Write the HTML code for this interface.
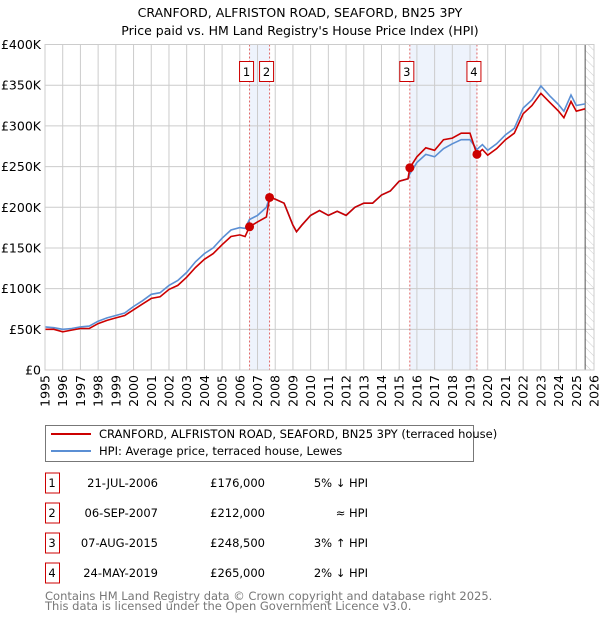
<!DOCTYPE html>
<html><head><meta charset="utf-8"><style>
body{margin:0;background:#fff;font-family:"Liberation Sans","DejaVu Sans",sans-serif;}
svg text{font-family:"DejaVu Sans","Liberation Sans",sans-serif;}
</style></head><body>
<svg id="c" width="600" height="620" xmlns="http://www.w3.org/2000/svg">
<defs><pattern id="hatch" width="6" height="6" patternUnits="userSpaceOnUse" patternTransform="rotate(-45)"><line x1="0" y1="0" x2="0" y2="6" stroke="#ccc" stroke-width="1"/></pattern></defs>
<text x="300" y="17" text-anchor="middle" font-size="12.5" fill="#000">CRANFORD, ALFRISTON ROAD, SEAFORD, BN25 3PY</text>
<text x="300" y="35" text-anchor="middle" font-size="12.5" fill="#000">Price paid vs. HM Land Registry's House Price Index (HPI)</text>
<g id="plot"></g>
<g>
<rect x="45.5" y="425.5" width="428" height="36" fill="#fff" stroke="#777"/>
<line x1="51" y1="434" x2="91" y2="434" stroke="#cc0000" stroke-width="2"/>
<text x="99" y="438" font-size="11.5">CRANFORD, ALFRISTON ROAD, SEAFORD, BN25 3PY (terraced house)</text>
<line x1="51" y1="451" x2="91" y2="451" stroke="#5b8fd4" stroke-width="2"/>
<text x="99" y="455" font-size="11.5">HPI: Average price, terraced house, Lewes</text>
</g>
<g id="table" font-size="11.5"></g>
<text x="45" y="600" font-size="11.5" fill="#777">Contains HM Land Registry data © Crown copyright and database right 2025.</text>
<text x="45" y="610" font-size="11.5" fill="#777">This data is licensed under the Open Government Licence v3.0.</text>
</svg>
<script>
const yTicks=[0,50,100,150,200,250,300,350,400];
const yTickLabels=["£0","£50K","£100K","£150K","£200K","£250K","£300K","£350K","£400K"];
const xYears=[1995,1996,1997,1998,1999,2000,2001,2002,2003,2004,2005,2006,2007,2008,2009,2010,2011,2012,2013,2014,2015,2016,2017,2018,2019,2020,2021,2022,2023,2024,2025,2026];
const hpiDates=[1995.0,1995.5,1996.0,1996.5,1997.0,1997.5,1998.0,1998.5,1999.0,1999.5,2000.0,2000.5,2001.0,2001.5,2002.0,2002.5,2003.0,2003.5,2004.0,2004.5,2005.0,2005.5,2006.0,2006.3,2006.55,2007.0,2007.5,2007.68,2008.0,2008.5,2009.0,2009.2,2009.5,2010.0,2010.5,2011.0,2011.5,2012.0,2012.5,2013.0,2013.5,2014.0,2014.5,2015.0,2015.5,2015.6,2016.0,2016.5,2017.0,2017.5,2018.0,2018.5,2019.0,2019.39,2019.7,2020.0,2020.5,2021.0,2021.5,2022.0,2022.5,2023.0,2023.5,2024.0,2024.3,2024.7,2025.0,2025.5];
const hpiValues=[53,52,50,51,53,54,60,64,67,70,78,85,93,95,104,110,120,133,143,150,162,172,175,174,185,190,200,212,210,205,178,170,178,190,196,190,195,190,200,205,205,215,220,232,235,241,255,265,262,272,278,283,283,271,277,270,278,289,297,322,332,349,337,326,318,338,325,327];
const priceDates=[1995.0,1995.5,1996.0,1996.5,1997.0,1997.5,1998.0,1998.5,1999.0,1999.5,2000.0,2000.5,2001.0,2001.5,2002.0,2002.5,2003.0,2003.5,2004.0,2004.5,2005.0,2005.5,2006.0,2006.3,2006.55,2007.0,2007.5,2007.68,2008.0,2008.5,2009.0,2009.2,2009.5,2010.0,2010.5,2011.0,2011.5,2012.0,2012.5,2013.0,2013.5,2014.0,2014.5,2015.0,2015.5,2015.6,2016.0,2016.5,2017.0,2017.5,2018.0,2018.5,2019.0,2019.39,2019.7,2020.0,2020.5,2021.0,2021.5,2022.0,2022.5,2023.0,2023.5,2024.0,2024.3,2024.7,2025.0,2025.5];
const priceValues=[50,50,47,49,51,51,57,61,64,67,74,81,88,90,99,104,114,126,136,143,154,164,166,164,176,182,188,212,210,205,178,170,178,190,196,190,195,190,200,205,205,215,220,232,235,248.5,262,273,270,283,285,291,291,265,271,264,272,283,291,315,325,340,329,318,310,330,318,321];
const saleDates=[2006.55,2007.68,2015.6,2019.39];
const salePrices=[176,212,248.5,265];
const saleLabels=["1","2","3","4"];
const saleDateText=["21-JUL-2006","06-SEP-2007","07-AUG-2015","24-MAY-2019"];
const salePriceText=["£176,000","£212,000","£248,500","£265,000"];
const saleHpiText=["5% ↓ HPI","≈ HPI","3% ↑ HPI","2% ↓ HPI"];
const dataEnd=2025.5;

const NS="http://www.w3.org/2000/svg";
const L=45,R=594,T=44.5,B=370;
const x=d=>L+(d-1995)/(2026-1995)*(R-L);
const y=v=>B-v/400*(B-T);
const plot=document.getElementById('plot');
function mk(tag,attrs,parent){const e=document.createElementNS(NS,tag);for(const k in attrs)e.setAttribute(k,attrs[k]);(parent||plot).appendChild(e);return e;}
// bands
for(let i=0;i<saleDates.length;i+=2){
 const b=mk('rect',{x:x(saleDates[i]),y:T,width:x(saleDates[i+1])-x(saleDates[i]),height:B-T,fill:'#eef3fc'});
 
 
}
// hatch
const h=mk('rect',{x:x(dataEnd),y:T,width:R-x(dataEnd),height:B-T,fill:'url(#hatch)'});


// grid
yTicks.forEach((v,i)=>{
 const g=mk('line',{x1:L,x2:R,y1:y(v),y2:y(v),stroke:'#cccccc','stroke-width':1});
 
 
 const t=mk('text',{x:L-4,y:y(v)+4.5,'text-anchor':'end','font-size':12.5,fill:'#000'});
 t.textContent=yTickLabels[i];
 
 
});
xYears.forEach(yr=>{
 const g=mk('line',{x1:x(yr),x2:x(yr),y1:T,y2:B,stroke:'#cccccc','stroke-width':1});
 
 
 const t=mk('text',{x:0,y:0,'text-anchor':'end','font-size':12.5,fill:'#000',transform:`translate(${x(yr)+4.5},375) rotate(-90)`});
 t.textContent=yr;
 
 
});
const el=mk('line',{x1:x(dataEnd),x2:x(dataEnd),y1:T,y2:B,stroke:'#555','stroke-width':1});


// sale lines
saleDates.forEach((d,i)=>{
 const l=mk('line',{x1:x(d),x2:x(d),y1:T,y2:B,stroke:'#e06666','stroke-width':1,'stroke-dasharray':'2,2'});
 
 
 const r=mk('rect',{x:x(d)-10,y:61.5,width:14,height:20,fill:'#fff',stroke:'#cc0000'});
 
 
 const t=mk('text',{x:x(d)-3,y:76,'text-anchor':'middle','font-size':11.5});
 t.textContent=saleLabels[i];
 
 
});
function line(ds,vs,col){return ds.map((d,i)=>(i?'L':'M')+x(d).toFixed(1)+','+y(vs[i]).toFixed(1)).join('');}
const hp=mk('path',{d:line(hpiDates,hpiValues),fill:'none',stroke:'#5b8fd4','stroke-width':1.6});


const pp=mk('path',{d:line(priceDates,priceValues),fill:'none',stroke:'#cc0000','stroke-width':1.6});


saleDates.forEach((d,i)=>{
 const c=mk('circle',{cx:x(d),cy:y(salePrices[i]),r:4.5,fill:'#cc0000'});
 
 
});
const fr=mk('rect',{x:L,y:T,width:R-L,height:B-T,fill:'none',stroke:'#cccccc'});


// table
const tb=document.getElementById('table');
saleDates.forEach((d,i)=>{
 const cy=483+i*30;
 const r=mk('rect',{x:45.5,y:cy-10,width:14,height:20,fill:'#fff',stroke:'#cc0000'},tb);
 
 
 const cells=[[52,'middle',saleLabels[i]],[158,'end',saleDateText[i]],[265,'end',salePriceText[i]],[368,'end',saleHpiText[i]]];
 cells.forEach(c=>{
  const t=mk('text',{x:c[0],y:cy+4,'text-anchor':c[1]},tb);
  t.textContent=c[2];
  
  
 });
});
</script>
</body></html>
